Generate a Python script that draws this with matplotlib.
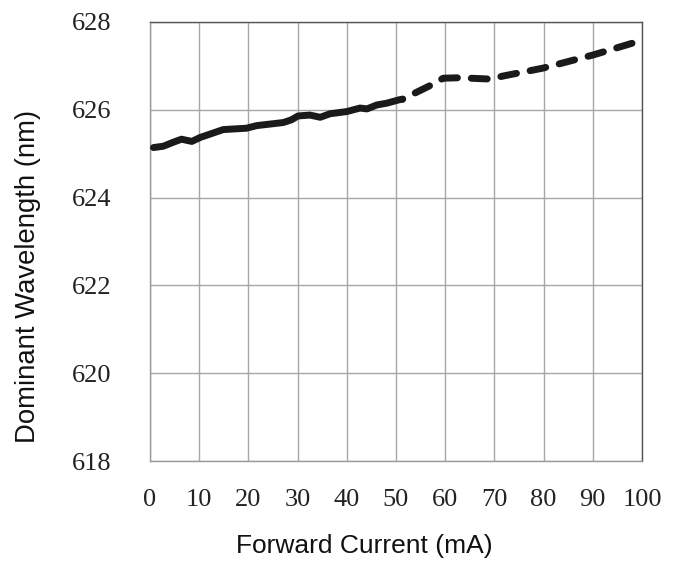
import matplotlib
matplotlib.use("Agg")
import matplotlib.pyplot as plt

# Measured dominant wavelength vs forward current
current_low = [0.7, 2.7, 4.7, 6.4, 8.5, 10.2, 14.9, 19.6, 21.7, 27.1, 28.7, 30.1,
               32.5, 34.6, 36.6, 40.0, 42.7, 44.1, 46.1, 48.1, 50.7, 51.3]
wavelength_low = [625.14, 625.17, 625.26, 625.33, 625.28, 625.37, 625.55, 625.58,
                  625.64, 625.71, 625.77, 625.86, 625.88, 625.83, 625.91, 625.96,
                  626.04, 626.02, 626.11, 626.15, 626.23, 626.24]

current_high = [51.3, 56.9, 59.6, 63.0, 69.1, 71.8, 79.9, 86.7, 90.1, 99.3]
wavelength_high = [626.24, 626.55, 626.72, 626.73, 626.70, 626.77, 626.95,
                   627.15, 627.25, 627.56]

x_ticks = list(range(0, 101, 10))
y_ticks = [618, 620, 622, 624, 626, 628]

W, H = 680, 563
fig = plt.figure(figsize=(W / 100, H / 100), dpi=100)
ax = fig.add_axes([150 / W, (H - 461) / H, (642 - 150) / W, (461 - 22) / H])

line_color = "#1a1a1a"
ax.plot(current_low, wavelength_low, color=line_color, lw=5.0,
        solid_capstyle="round", solid_joinstyle="round", zorder=3)
ax.plot(current_high, wavelength_high, color=line_color, lw=5.0,
        linestyle=(2.24, (2.3, 2.0)), dash_capstyle="round", zorder=3)

ax.set_xlim(0, 100)
ax.set_ylim(618, 628)
ax.set_xticks(x_ticks)
ax.set_yticks(y_ticks)
ax.grid(True, color="#a6a6a6", lw=1.0)
ax.set_axisbelow(True)
ax.tick_params(axis="x", length=0, pad=20)
ax.tick_params(axis="y", length=0, pad=28)

serif = ["Liberation Serif", "DejaVu Serif"]
for lab in ax.get_xticklabels() + ax.get_yticklabels():
    lab.set_fontfamily(serif)
    lab.set_fontsize(19)
    lab.set_color("#222222")

for side in ["left", "bottom"]:
    ax.spines[side].set_color("#9a9a9a")
    ax.spines[side].set_linewidth(1.0)
for side in ["top", "right"]:
    ax.spines[side].set_color("#555555")
    ax.spines[side].set_linewidth(1.0)

fig.text(364 / W, 1 - 546 / H, "Forward Current (mA)", family="Liberation Sans",
         fontsize=19, color="#111111", ha="center", va="center")
fig.text(28 / W, 1 - 276 / H, "Dominant Wavelength (nm)", family="Liberation Sans",
         fontsize=19.8, color="#111111", ha="center", va="center", rotation=90)

fig.savefig("out.png", dpi=100, facecolor="white")
